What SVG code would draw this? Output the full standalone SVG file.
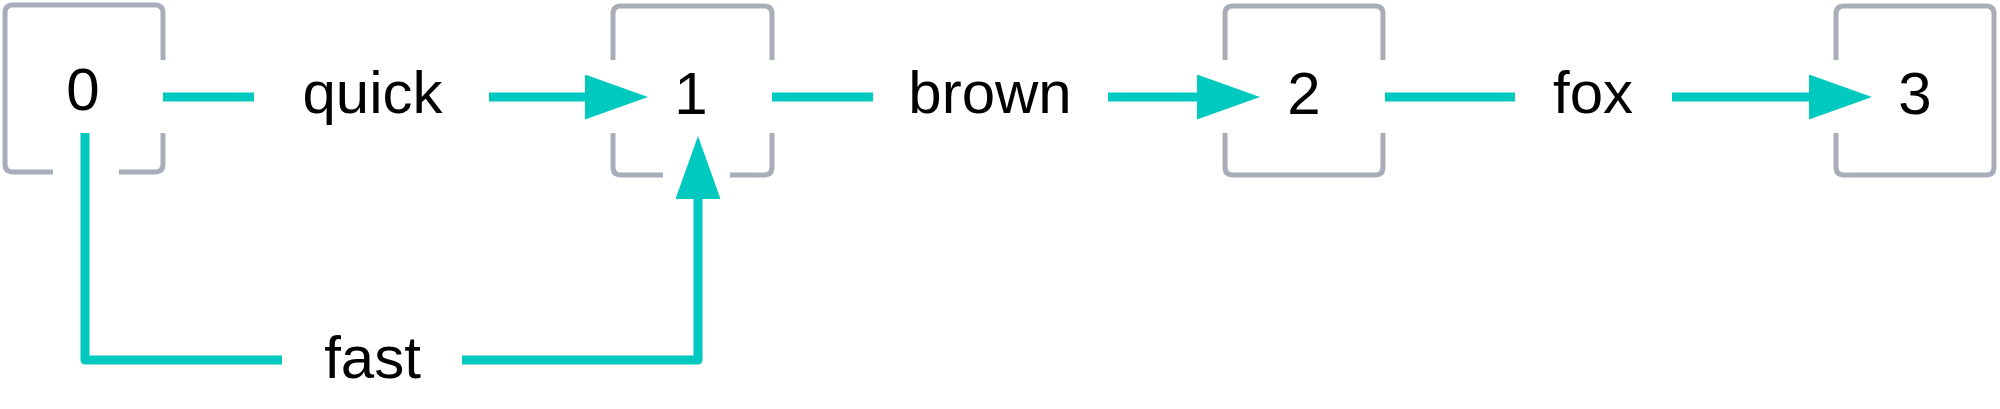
<svg xmlns="http://www.w3.org/2000/svg" width="2000" height="409" viewBox="0 0 2000 409">
<style>
.box{fill:none;stroke:#a9adb9;stroke-width:5;stroke-linecap:butt}
.num{font-family:"Liberation Sans",Arial,sans-serif;font-size:60px;fill:#000;text-anchor:middle}
.lbl{font-family:"Liberation Sans",Arial,sans-serif;font-size:60px;fill:#000;text-anchor:middle}
.edge{fill:none;stroke:#00c9bf;stroke-width:9;stroke-linejoin:round}
.lblbg{fill:#fff}
</style>
<defs>
<marker id="arrow" markerUnits="userSpaceOnUse" viewBox="0 0 63 45" refX="0" refY="22.5" markerWidth="63" markerHeight="45" orient="auto">
<path d="M0,0 L63,22.5 L0,45 Z" fill="#00c9bf"/>
</marker>
</defs>
<rect width="2000" height="409" fill="#fff"/>
<g id="node-0">
<path class="box" d="M163,60 V13 Q163,5 155,5 H13 Q5,5 5,13 V164 Q5,172 13,172 H53 M119,172 H155 Q163,172 163,164 V133"/>
<text class="num" x="83" y="110">0</text>
</g>
<g id="node-1">
<path class="box" d="M613,60 V14 Q613,6 621,6 H764 Q772,6 772,14 V60 M772,133 V167 Q772,175 764,175 H730 M663,175 H621 Q613,175 613,167 V133"/>
<text class="num" x="691" y="114">1</text>
</g>
<g id="node-2">
<path class="box" d="M1225,60 V14 Q1225,6 1233,6 H1375 Q1383,6 1383,14 V60 M1383,133 V167 Q1383,175 1375,175 H1233 Q1225,175 1225,167 V133"/>
<text class="num" x="1304" y="114">2</text>
</g>
<g id="node-3">
<path class="box" d="M1836,60 V14 Q1836,6 1844,6 H1986 Q1994,6 1994,14 V167 Q1994,175 1986,175 H1844 Q1836,175 1836,167 V133"/>
<text class="num" x="1915" y="114">3</text>
</g>
<g id="edges">
<g id="edge-0-1">
<path class="edge" d="M163,97 H585" marker-end="url(#arrow)"/>
<rect class="lblbg" x="254" y="60" width="235" height="74"/>
<text class="lbl" x="372.5" y="113">quick</text>
</g>
<g id="edge-1-2">
<path class="edge" d="M772,97 H1197" marker-end="url(#arrow)"/>
<rect class="lblbg" x="873" y="60" width="235" height="74"/>
<text class="lbl" x="990" y="113">brown</text>
</g>
<g id="edge-2-3">
<path class="edge" d="M1385,97 H1809" marker-end="url(#arrow)"/>
<rect class="lblbg" x="1515" y="60" width="157" height="74"/>
<text class="lbl" x="1593" y="113">fox</text>
</g>
<g id="edge-0-1-fast">
<path class="edge" d="M85,133 V360 H698 V199" marker-end="url(#arrow)"/>
<rect class="lblbg" x="282" y="325" width="180" height="74"/>
<text class="lbl" x="372.5" y="378">fast</text>
</g>
</g>
</svg>
